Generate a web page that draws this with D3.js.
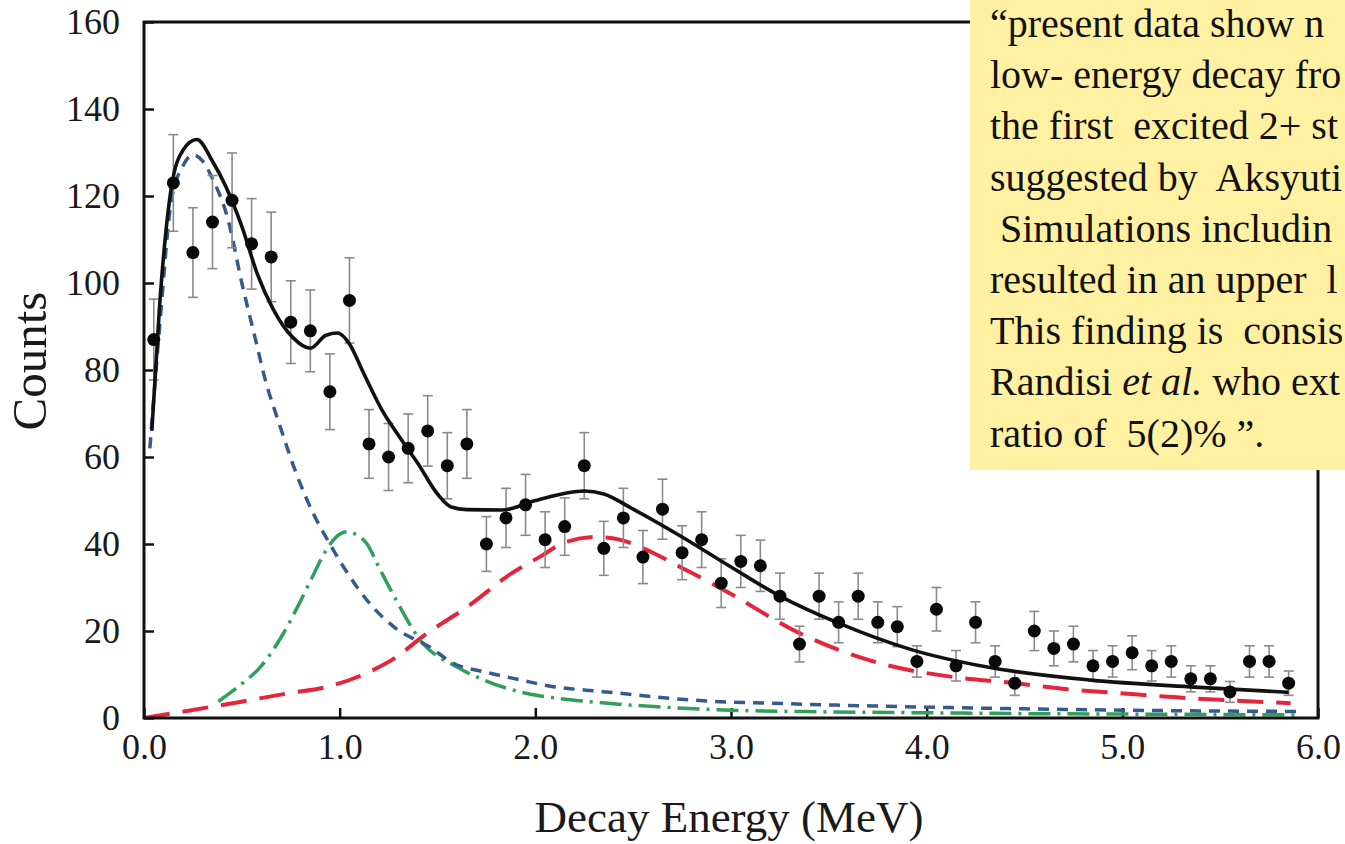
<!DOCTYPE html>
<html>
<head>
<meta charset="utf-8">
<script src="https://cdn.jsdelivr.net/npm/d3@7"></script>
<style>
  body { margin: 0; background: #fff; }
  svg { display: block; }
</style>
</head>
<body>
<div id="chart-area"></div>
<script>

// Measured spectrum (bin centres in MeV, counts, error bars)
const energy = [0.05, 0.15, 0.25, 0.35, 0.45, 0.55, 0.65, 0.75, 0.85, 0.95,
    1.05, 1.15, 1.25, 1.35, 1.45, 1.55, 1.65, 1.75, 1.85, 1.95,
    2.05, 2.15, 2.25, 2.35, 2.45, 2.55, 2.65, 2.75, 2.85, 2.95,
    3.05, 3.15, 3.25, 3.35, 3.45, 3.55, 3.65, 3.75, 3.85, 3.95,
    4.05, 4.15, 4.25, 4.35, 4.45, 4.55, 4.65, 4.75, 4.85, 4.95,
    5.05, 5.15, 5.25, 5.35, 5.45, 5.55, 5.65, 5.75, 5.85];
const counts = [87, 123, 107, 114, 119, 109, 106, 91, 89, 75,
    96, 63, 60, 62, 66, 58, 63, 40, 46, 49,
    41, 44, 58, 39, 46, 37, 48, 38, 41, 31,
    36, 35, 28, 17, 28, 22, 28, 22, 21, 13,
    25, 12, 22, 13, 8, 20, 16, 17, 12, 13,
    15, 12, 13, 9, 9, 6, 13, 13, 8];
const errors = [9.3, 11.1, 10.3, 10.7, 10.9, 10.4, 10.3, 9.5, 9.4, 8.7,
    9.8, 7.9, 7.7, 7.9, 8.1, 7.6, 7.9, 6.3, 6.8, 7.0,
    6.4, 6.6, 7.6, 6.2, 6.8, 6.1, 6.9, 6.2, 6.4, 5.6,
    6.0, 5.9, 5.3, 4.1, 5.3, 4.7, 5.3, 4.7, 4.6, 3.6,
    5.0, 3.5, 4.7, 3.6, 2.8, 4.5, 4.0, 4.1, 3.5, 3.6,
    3.9, 3.5, 3.6, 3.0, 3.0, 2.4, 3.6, 3.6, 2.8];

// Total fit (black solid)
const fitX = [0.04, 0.08, 0.14, 0.2, 0.27, 0.35, 0.42, 0.5, 0.58, 0.66, 0.76, 0.85, 0.93, 0.99,
    1.05, 1.12, 1.22, 1.3, 1.4, 1.5, 1.57, 1.65, 1.83, 2.0, 2.25, 2.35, 2.5, 2.75, 3.0, 3.26,
    3.55, 3.93, 4.31, 4.84, 5.37, 5.85];
const fitY = [66, 95, 122, 130.6, 133, 128, 122, 113, 102, 94, 87.5, 85, 88, 88.5,
    86, 79.5, 70.5, 65, 58.5, 51.5, 48.5, 47.9, 47.8, 50, 52.2, 51.5, 48, 41.6, 34.7, 27.8,
    21.8, 15.6, 11.7, 8.7, 7.1, 5.9];

// Low-energy component (blue short dash)
const blueX = [0.03, 0.08, 0.14, 0.2, 0.25, 0.3, 0.35, 0.43, 0.5, 0.57, 0.62, 0.69, 0.78, 0.86,
    0.95, 1.03, 1.15, 1.29, 1.46, 1.58, 1.75, 1.93, 2.09, 2.26, 2.43, 2.62, 2.84, 3.2,
    3.6, 4.0, 4.5, 5.0, 5.5, 5.9];
const blueY = [62, 90, 119, 127, 129.5, 128, 124, 114.5, 100, 87, 77.7, 67.8, 56, 47.5,
    40, 34, 26.5, 20.5, 16.3, 12.6, 10.5, 8.7, 7.2, 6.4, 5.7, 4.8, 4.0, 3.4,
    2.9, 2.5, 2.1, 1.8, 1.6, 1.5];

// 2+ state component (green dash-dot)
const greenX = [0.38, 0.49, 0.6, 0.7, 0.79, 0.86, 0.93, 0.98, 1.04, 1.09, 1.14, 1.2, 1.29,
    1.41, 1.6, 1.75, 1.92, 2.1, 2.29, 2.65, 3.0, 3.5, 4.0, 4.5, 5.0, 5.5, 5.9];
const greenY = [3.8, 7.5, 12, 18.5, 26, 32.4, 38.5, 41.5, 42.8, 42, 40, 34.7, 27,
    18, 11.7, 8.5, 6, 4.6, 3.7, 2.5, 1.8, 1.4, 1.2, 1.0, 0.9, 0.8, 0.7];

// High-energy component (red long dash)
const redX = [0.0, 0.19, 0.49, 0.74, 0.93, 1.17, 1.29, 1.42, 1.66, 1.88, 2.04, 2.14, 2.31,
    2.43, 2.6, 2.75, 2.87, 3.0, 3.35, 3.76, 4.14, 4.41, 4.72, 4.99, 5.26, 5.53, 5.86];
const redY = [0, 1.4, 3.7, 5.7, 7.1, 11, 14, 18.6, 25.8, 33.3, 37.5, 40.2, 41.6,
    41, 38, 34.5, 31.7, 28.5, 19.5, 12.6, 9.4, 8.2, 6.6, 5.7, 4.8, 4.1, 3.4];

const xTicks = [0, 1, 2, 3, 4, 5, 6];
const yTicks = [0, 20, 40, 60, 80, 100, 120, 140, 160];

// Quote as it shows inside the box (cut at the page edge); |...| marks italics
const quoteLines = ["\u201Cpresent data show n", "low- energy decay fro", "the first  excited 2+ st",
    "suggested by  Aksyuti", " Simulations includin", "resulted in an upper  l",
    "This finding is  consis", "Randisi |et al.| who ext", "ratio of  5(2)% \u201D."];

// Set margin, width, height
let margin = {top: 22, right: 27, bottom: 126, left: 144};
let width = 1345 - margin.left - margin.right;
let height = 844 - margin.top - margin.bottom;

let root = d3.select("#chart-area").append("svg")
    .attr("width", 1345)
    .attr("height", 844);

let svg = root.append("g")
    .attr("transform", "translate(" + margin.left + "," + margin.top + ")");

// Scales
let x = d3.scaleLinear().domain([0, 6]).range([0, width]);
let y = d3.scaleLinear().domain([0, 160]).range([height, 0]);

// Axes with inward ticks
let yAxis = svg.append("g")
    .call(d3.axisLeft(y).tickValues(yTicks).tickSizeInner(-10).tickSizeOuter(0).tickPadding(24));
yAxis.select(".domain").remove();
yAxis.selectAll(".tick line").attr("stroke", "#111").attr("stroke-width", 2.5);
yAxis.selectAll(".tick text")
    .style("font-family", "'Liberation Serif', serif")
    .style("font-size", "36px")
    .attr("fill", "#1a1a1a");

let xAxis = svg.append("g")
    .attr("transform", `translate(0,${height})`)
    .call(d3.axisBottom(x).tickValues(xTicks).tickFormat(d3.format(".1f"))
        .tickSizeInner(-10).tickSizeOuter(0).tickPadding(15));
xAxis.select(".domain").remove();
xAxis.selectAll(".tick line").attr("stroke", "#111").attr("stroke-width", 2.5);
xAxis.selectAll(".tick text")
    .style("font-family", "'Liberation Serif', serif")
    .style("font-size", "36px")
    .attr("fill", "#1a1a1a");

// Component curves
const line = d3.line()
    .x(d => x(d[0]))
    .y(d => y(d[1]))
    .curve(d3.curveMonotoneX);

function drawCurve(xs, ys, color, widthPx, dash) {
    svg.append("path")
        .datum(d3.zip(xs, ys))
        .attr("d", line)
        .attr("fill", "none")
        .attr("stroke", color)
        .attr("stroke-width", widthPx)
        .attr("stroke-dasharray", dash);
}

drawCurve(redX, redY, "#e5263a", 4, "26,13");
drawCurve(greenX, greenY, "#2fa05a", 3.5, "22,7,3,7");
drawCurve(blueX, blueY, "#345a8f", 3.5, "11,8");

// Error bars
const points = d3.zip(energy, counts, errors);
const bars = svg.selectAll(".err")
    .data(points)
    .enter()
    .append("g")
    .attr("stroke", "#8a8a8a")
    .attr("stroke-width", 1.6);
bars.append("line")
    .attr("x1", d => x(d[0])).attr("x2", d => x(d[0]))
    .attr("y1", d => y(d[1] - d[2])).attr("y2", d => y(d[1] + d[2]));
bars.append("line")
    .attr("x1", d => x(d[0]) - 5).attr("x2", d => x(d[0]) + 5)
    .attr("y1", d => y(d[1] + d[2])).attr("y2", d => y(d[1] + d[2]));
bars.append("line")
    .attr("x1", d => x(d[0]) - 5).attr("x2", d => x(d[0]) + 5)
    .attr("y1", d => y(d[1] - d[2])).attr("y2", d => y(d[1] - d[2]));

// Total fit on top of components
drawCurve(fitX, fitY, "#111", 3.6, null);

// Data points
svg.selectAll(".pt")
    .data(points)
    .enter()
    .append("circle")
    .attr("cx", d => x(d[0]))
    .attr("cy", d => y(d[1]))
    .attr("r", 6.5)
    .attr("fill", "#0a0a0a");

// Frame
svg.append("rect")
    .attr("x", 0).attr("y", 0)
    .attr("width", width).attr("height", height)
    .attr("fill", "none")
    .attr("stroke", "#111")
    .attr("stroke-width", 3);

// Axis titles
root.append("text")
    .attr("x", 729)
    .attr("y", 832)
    .attr("text-anchor", "middle")
    .style("font-family", "'Liberation Serif', serif")
    .style("font-size", "45px")
    .attr("fill", "#1a1a1a")
    .text("Decay Energy (MeV)");

root.append("text")
    .attr("transform", "translate(46,361) rotate(-90)")
    .attr("text-anchor", "middle")
    .style("font-family", "'Liberation Serif', serif")
    .style("font-size", "49px")
    .attr("fill", "#1a1a1a")
    .text("Counts");

// Yellow quote box overlapping the plot
root.append("rect")
    .attr("x", 970).attr("y", 0)
    .attr("width", 375).attr("height", 470)
    .attr("fill", "#fff1a1");

const quote = root.append("text")
    .attr("xml:space", "preserve")
    .style("font-family", "'Liberation Serif', serif")
    .style("font-size", "40px")
    .attr("fill", "#111");

quoteLines.forEach((t, i) => {
    const parts = t.split("|");
    parts.forEach((p, j) => {
        const span = quote.append("tspan").text(p);
        if (j === 0) span.attr("x", 990).attr("y", 37 + i * 51.2);
        if (j === 1) span.style("font-style", "italic");
    });
});

</script>
</body>
</html>
